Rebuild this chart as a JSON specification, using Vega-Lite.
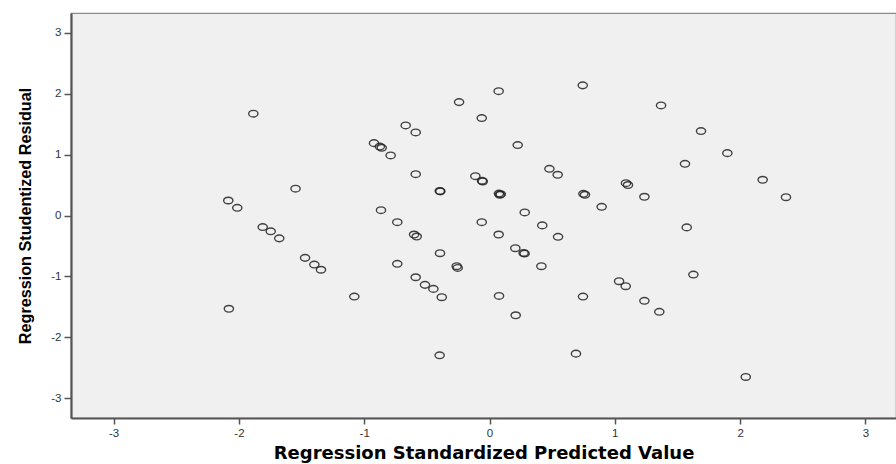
{
  "$schema": "https://vega.github.io/schema/vega-lite/v6.json",
  "autosize": "none",
  "padding": {"left": 71, "top": 13, "right": 0, "bottom": 46},
  "width": 825,
  "height": 405,
  "background": "#ffffff",
  "config": {
    "view": {"fill": "#f0f0f0", "stroke": "#8a8a8a", "strokeWidth": 1.2},
    "axis": {
      "grid": false,
      "domainColor": "#555555",
      "domainWidth": 2.2,
      "tickColor": "#555555",
      "tickWidth": 1.5,
      "labelColor": "#333333",
      "labelFont": "Liberation Sans",
      "labelFontSize": 11.5,
      "titleFontWeight": "bold",
      "titleColor": "#000000"
    }
  },
  "data": {
    "values": [
      {"pred": -2.085, "resid": 0.246},
      {"pred": -2.013, "resid": 0.126},
      {"pred": -1.885, "resid": 1.67},
      {"pred": -1.548, "resid": 0.44},
      {"pred": -1.81, "resid": -0.19},
      {"pred": -1.746, "resid": -0.26},
      {"pred": -1.678, "resid": -0.375},
      {"pred": -2.08, "resid": -1.53},
      {"pred": -1.472, "resid": -0.695},
      {"pred": -1.398, "resid": -0.805},
      {"pred": -1.345, "resid": -0.89},
      {"pred": -1.079, "resid": -1.33},
      {"pred": -0.922, "resid": 1.187},
      {"pred": -0.875, "resid": 1.13},
      {"pred": -0.86, "resid": 1.11},
      {"pred": -0.789, "resid": 0.985},
      {"pred": -0.669, "resid": 1.478},
      {"pred": -0.589, "resid": 1.363},
      {"pred": -0.589, "resid": 0.678},
      {"pred": -0.866, "resid": 0.087},
      {"pred": -0.736, "resid": -0.11},
      {"pred": -0.736, "resid": -0.793},
      {"pred": -0.602, "resid": -0.312},
      {"pred": -0.581, "resid": -0.345},
      {"pred": -0.589, "resid": -1.013},
      {"pred": -0.515, "resid": -1.138},
      {"pred": -0.448, "resid": -1.204},
      {"pred": -0.381, "resid": -1.341},
      {"pred": -0.398, "resid": -2.294},
      {"pred": -0.397, "resid": 0.402},
      {"pred": -0.392, "resid": 0.396},
      {"pred": -0.395, "resid": -0.619},
      {"pred": -0.262, "resid": -0.832},
      {"pred": -0.254, "resid": -0.86},
      {"pred": -0.243, "resid": 1.86},
      {"pred": -0.062, "resid": 1.598},
      {"pred": 0.073, "resid": 2.04},
      {"pred": 0.744, "resid": 2.135},
      {"pred": 1.369, "resid": 1.806},
      {"pred": 0.225, "resid": 1.155},
      {"pred": -0.113, "resid": 0.645},
      {"pred": -0.06, "resid": 0.57},
      {"pred": -0.054, "resid": 0.558},
      {"pred": 0.075, "resid": 0.36},
      {"pred": 0.09, "resid": 0.35},
      {"pred": 0.082, "resid": 0.34},
      {"pred": 0.478, "resid": 0.766},
      {"pred": 0.544, "resid": 0.668},
      {"pred": 0.749, "resid": 0.356},
      {"pred": 0.762, "resid": 0.34},
      {"pred": 1.089, "resid": 0.53},
      {"pred": 1.105, "resid": 0.5},
      {"pred": 1.236, "resid": 0.307},
      {"pred": 0.895, "resid": 0.142},
      {"pred": 0.281, "resid": 0.05},
      {"pred": -0.062, "resid": -0.11},
      {"pred": 0.421, "resid": -0.162},
      {"pred": 1.688, "resid": 1.385},
      {"pred": 1.898, "resid": 1.023},
      {"pred": 1.56, "resid": 0.848},
      {"pred": 2.18, "resid": 0.586},
      {"pred": 2.366, "resid": 0.3},
      {"pred": 1.574, "resid": -0.195},
      {"pred": 0.073, "resid": -0.312},
      {"pred": 0.547, "resid": -0.35},
      {"pred": 0.206, "resid": -0.537},
      {"pred": 0.272, "resid": -0.615},
      {"pred": 0.28, "resid": -0.625},
      {"pred": 0.414, "resid": -0.832},
      {"pred": 1.034, "resid": -1.078},
      {"pred": 1.087, "resid": -1.16},
      {"pred": 0.076, "resid": -1.319},
      {"pred": 0.746, "resid": -1.33},
      {"pred": 1.236, "resid": -1.4},
      {"pred": 1.355, "resid": -1.58},
      {"pred": 0.209, "resid": -1.637},
      {"pred": 0.69, "resid": -2.266},
      {"pred": 1.627, "resid": -0.969},
      {"pred": 2.045, "resid": -2.649}
    ]
  },
  "mark": {
    "type": "point",
    "shape": "M -1 0 A 1 0.72 0 1 0 1 0 A 1 0.72 0 1 0 -1 0 Z",
    "size": 85,
    "filled": false,
    "stroke": "#222222",
    "strokeWidth": 1.4,
    "opacity": 0.85
  },
  "encoding": {
    "x": {
      "field": "pred",
      "type": "quantitative",
      "scale": {"domain": [-3.34, 3.244], "nice": false, "zero": false},
      "axis": {
        "values": [-3, -2, -1, 0, 1, 2, 3],
        "labelExpr": "'' + datum.value",
        "tickSize": 6,
        "labelPadding": 3,
        "title": "Regression Standardized Predicted Value",
        "titleFont": "DejaVu Sans",
        "titleFontSize": 18,
        "titlePadding": 6
      }
    },
    "y": {
      "field": "resid",
      "type": "quantitative",
      "scale": {"domain": [-3.322, 3.322], "nice": false, "zero": false},
      "axis": {
        "values": [-3, -2, -1, 0, 1, 2, 3],
        "labelExpr": "'' + datum.value",
        "tickSize": 7,
        "labelPadding": 3,
        "title": "Regression Studentized Residual",
        "titleFont": "Liberation Sans",
        "titleFontSize": 16.2,
        "titlePadding": 17
      }
    }
  }
}
